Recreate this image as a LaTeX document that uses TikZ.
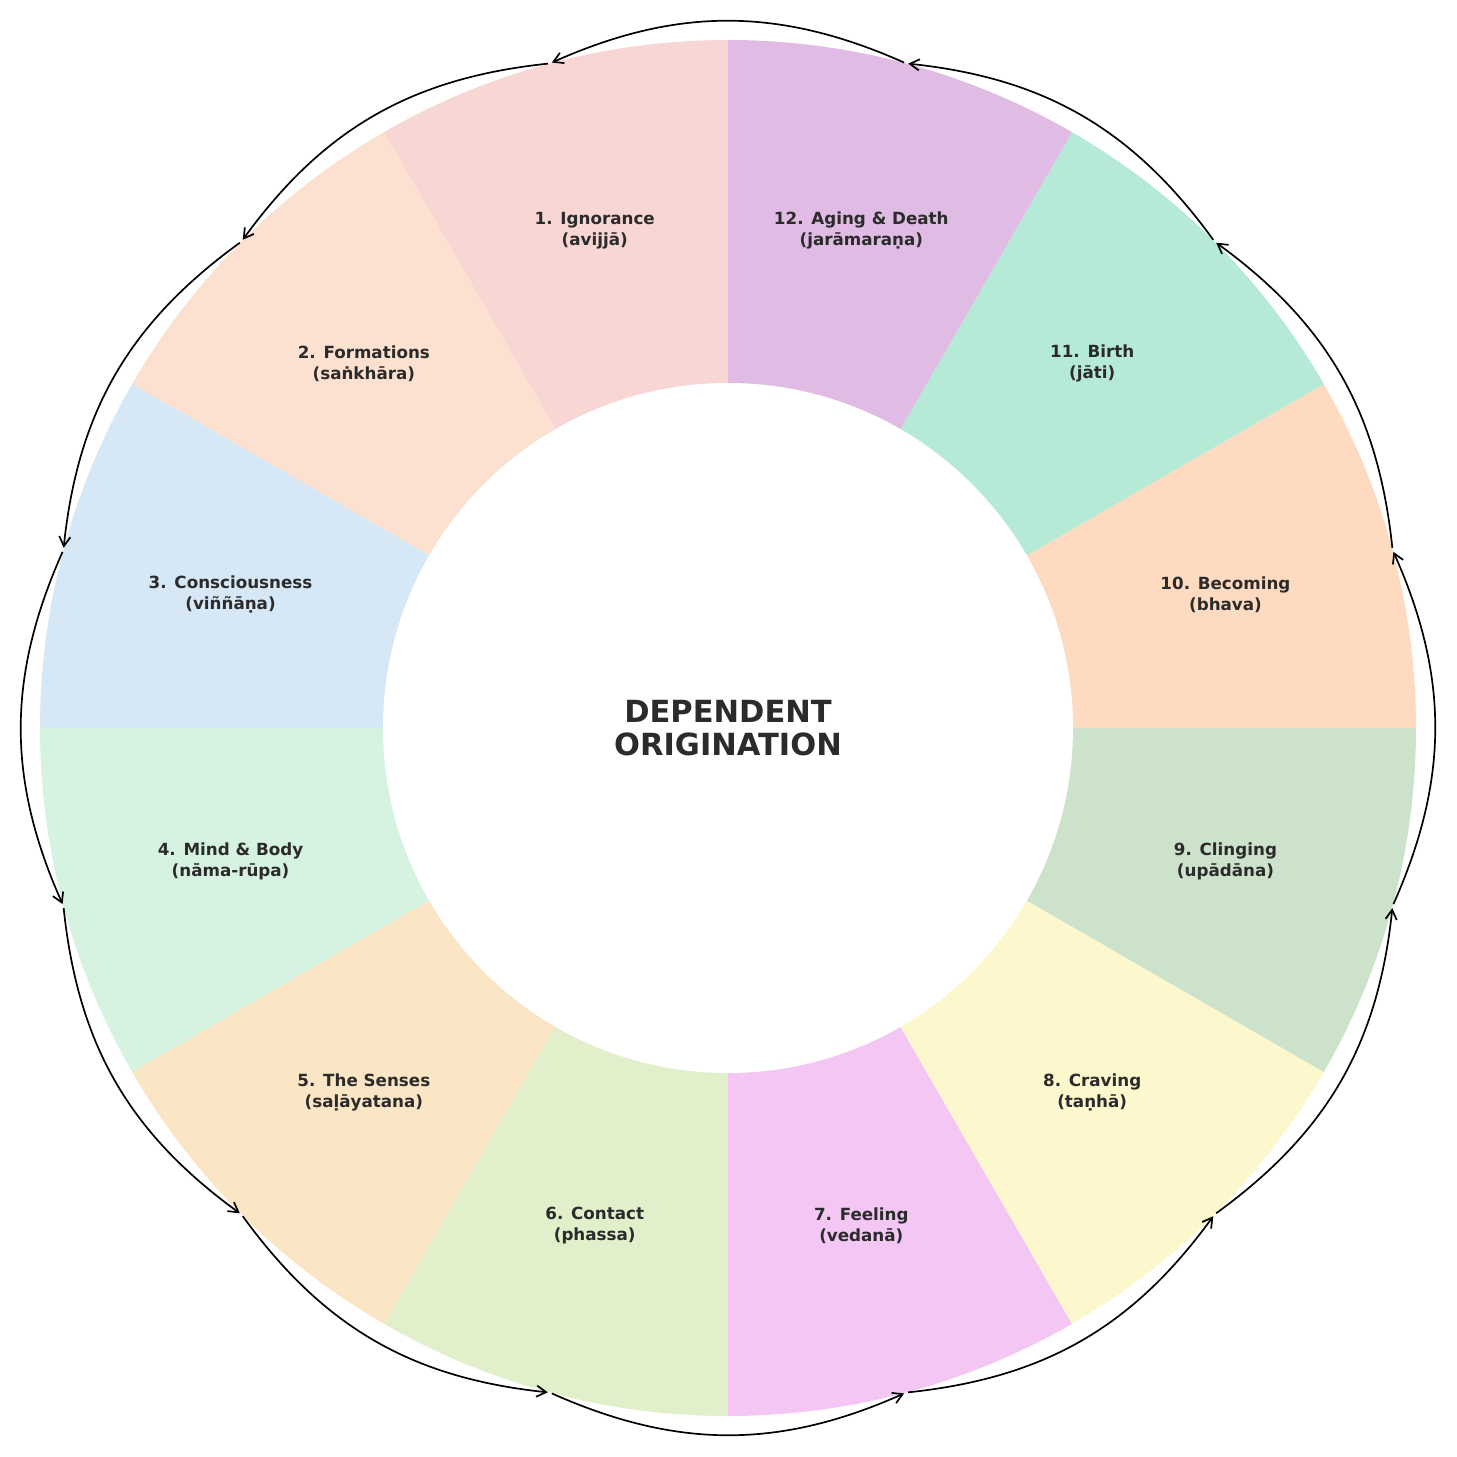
\documentclass[tikz,border=0pt]{standalone}
\usepackage{fontspec}
\setmainfont{DejaVu Sans}
\usetikzlibrary{arrows.meta}
\definecolor{seg1}{HTML}{F8D6D4}
\definecolor{seg2}{HTML}{FCE0D0}
\definecolor{seg3}{HTML}{D6E8F6}
\definecolor{seg4}{HTML}{D6F2E0}
\definecolor{seg5}{HTML}{FAE5C4}
\definecolor{seg6}{HTML}{E1EFCB}
\definecolor{seg7}{HTML}{F3C6F3}
\definecolor{seg8}{HTML}{FDF7CE}
\definecolor{seg9}{HTML}{CDE2CB}
\definecolor{seg10}{HTML}{FEDAC0}
\definecolor{seg11}{HTML}{B5EAD7}
\definecolor{seg12}{HTML}{E0BBE3}
\definecolor{inktext}{HTML}{2B2B2B}
\tikzset{
  stage/.style = {
    font=\bfseries\fontsize{11.9pt}{14.9pt}\selectfont,
    text=inktext,
    align=center,
    inner sep=0pt
  },
  title/.style = {
    font=\bfseries\fontsize{21.7pt}{23.6pt}\selectfont,
    text=inktext,
    align=center,
    inner sep=0pt
  },
  cycle_arrow/.style = {
    line width=1.2pt,
    -{Straight Barb[length=2.4mm,width=2.8mm]},
    shorten <=1.5pt,
    shorten >=1.5pt
  }
}

\begin{document}
\begin{tikzpicture}[x=0.025cm, y=0.025cm]

\useasboundingbox (-728,-729) rectangle (728,728);

% Segmente des Rades
\fill[seg1] (0,0) -- (90:688) arc[start angle=90, end angle=120, radius=688] -- cycle;
\fill[seg2] (0,0) -- (120:688) arc[start angle=120, end angle=150, radius=688] -- cycle;
\fill[seg3] (0,0) -- (150:688) arc[start angle=150, end angle=180, radius=688] -- cycle;
\fill[seg4] (0,0) -- (180:688) arc[start angle=180, end angle=210, radius=688] -- cycle;
\fill[seg5] (0,0) -- (210:688) arc[start angle=210, end angle=240, radius=688] -- cycle;
\fill[seg6] (0,0) -- (240:688) arc[start angle=240, end angle=270, radius=688] -- cycle;
\fill[seg7] (0,0) -- (270:688) arc[start angle=270, end angle=300, radius=688] -- cycle;
\fill[seg8] (0,0) -- (300:688) arc[start angle=300, end angle=330, radius=688] -- cycle;
\fill[seg9] (0,0) -- (330:688) arc[start angle=330, end angle=360, radius=688] -- cycle;
\fill[seg10] (0,0) -- (0:688) arc[start angle=0, end angle=30, radius=688] -- cycle;
\fill[seg11] (0,0) -- (30:688) arc[start angle=30, end angle=60, radius=688] -- cycle;
\fill[seg12] (0,0) -- (60:688) arc[start angle=60, end angle=90, radius=688] -- cycle;

% Innere Scheibe
\fill[white] (0,0) circle[radius=345];
\node[title] (center) at (0,0) {DEPENDENT\\ORIGINATION};

% Glieder
\node[stage] (ignorance) at (105:515) {1. Ignorance\\(avijjā)};
\node[stage] (formations) at (135:515) {2. Formations\\(saṅkhāra)};
\node[stage] (consciousness) at (165:515) {3. Consciousness\\(viññāṇa)};
\node[stage] (mindbody) at (195:515) {4. Mind \& Body\\(nāma-rūpa)};
\node[stage] (senses) at (225:515) {5. The Senses\\(saḷāyatana)};
\node[stage] (contact) at (255:515) {6. Contact\\(phassa)};
\node[stage] (feeling) at (285:515) {7. Feeling\\(vedanā)};
\node[stage] (craving) at (315:515) {8. Craving\\(taṇhā)};
\node[stage] (clinging) at (345:515) {9. Clinging\\(upādāna)};
\node[stage] (becoming) at (15:515) {10. Becoming\\(bhava)};
\node[stage] (birth) at (45:515) {11. Birth\\(jāti)};
\node[stage] (agingdeath) at (75:515) {12. Aging \& Death\\(jarāmaraṇa)};

% Ankerpunkte am Rand
\coordinate (p1) at (105:688);
\coordinate (p2) at (135:688);
\coordinate (p3) at (165:688);
\coordinate (p4) at (195:688);
\coordinate (p5) at (225:688);
\coordinate (p6) at (255:688);
\coordinate (p7) at (285:688);
\coordinate (p8) at (315:688);
\coordinate (p9) at (345:688);
\coordinate (p10) at (15:688);
\coordinate (p11) at (45:688);
\coordinate (p12) at (75:688);

% Verbindungen
\draw[cycle_arrow] (p1) to[bend right=24] (p2);
\draw[cycle_arrow] (p2) to[bend right=24] (p3);
\draw[cycle_arrow] (p3) to[bend right=24] (p4);
\draw[cycle_arrow] (p4) to[bend right=24] (p5);
\draw[cycle_arrow] (p5) to[bend right=24] (p6);
\draw[cycle_arrow] (p6) to[bend right=24] (p7);
\draw[cycle_arrow] (p7) to[bend right=24] (p8);
\draw[cycle_arrow] (p8) to[bend right=24] (p9);
\draw[cycle_arrow] (p9) to[bend right=24] (p10);
\draw[cycle_arrow] (p10) to[bend right=24] (p11);
\draw[cycle_arrow] (p11) to[bend right=24] (p12);
\draw[cycle_arrow] (p12) to[bend right=24] (p1);

\end{tikzpicture}
\end{document}
